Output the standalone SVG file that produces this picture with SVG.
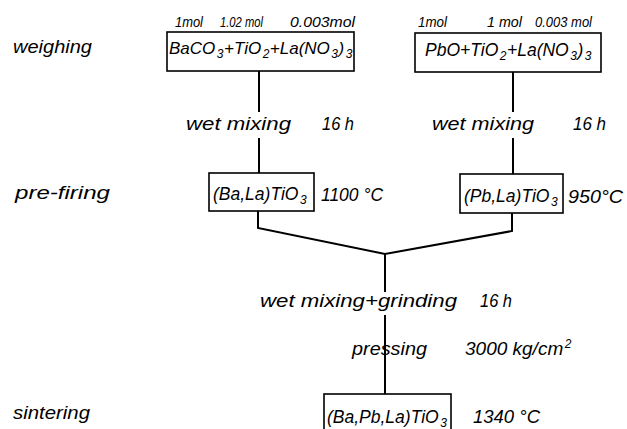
<svg xmlns="http://www.w3.org/2000/svg" width="627" height="429" viewBox="0 0 627 429">
<style>
text{font-family:"Liberation Sans",Arial,sans-serif;font-style:italic;fill:#000}
.big{font-size:19px}
.box{font-size:17.5px}
.mol{font-size:14px}
.sub{font-size:12px}
.node rect{fill:none;stroke:#000;stroke-width:1.6}
.conn{fill:none;stroke:#000;stroke-width:2}
</style>
<rect width="627" height="429" fill="#fff"/>
<g id="stages">
<text class="big" x="13" y="53" textLength="79" lengthAdjust="spacingAndGlyphs">weighing</text>
<text class="big" x="15" y="199" textLength="95" lengthAdjust="spacingAndGlyphs">pre-firing</text>
<text class="big" x="13" y="419" textLength="77" lengthAdjust="spacingAndGlyphs">sintering</text>
</g>
<g id="connectors">
<path class="conn" d="M259 71V112M259 138V173"/>
<path class="conn" d="M513 72V112M513 138V174"/>
<path class="conn" d="M258 211V228L385 254L512 231V213"/>
<path class="conn" d="M385 254V292M385 315V394"/>
</g>
<g id="mix-labels">
<text class="big" x="186" y="130" textLength="105" lengthAdjust="spacingAndGlyphs">wet mixing</text>
<text class="big" x="322" y="130" textLength="32" lengthAdjust="spacingAndGlyphs">16 h</text>
<text class="big" x="432" y="130" textLength="102" lengthAdjust="spacingAndGlyphs">wet mixing</text>
<text class="big" x="573" y="130" textLength="33" lengthAdjust="spacingAndGlyphs">16 h</text>
<text class="big" x="260" y="307" textLength="197" lengthAdjust="spacingAndGlyphs">wet mixing+grinding</text>
<text class="big" x="480" y="307" textLength="32" lengthAdjust="spacingAndGlyphs">16 h</text>
<text class="big" x="352" y="355" textLength="75" lengthAdjust="spacingAndGlyphs">pressing</text>
<text class="big" x="465" y="355">3000 kg/cm<tspan class="sub" dx="1.5" dy="-7">2</tspan></text>
</g>
<g id="node-batio3-mix" class="node">
<text class="mol" x="175" y="27" textLength="28" lengthAdjust="spacingAndGlyphs">1mol</text>
<text class="mol" x="220" y="27" textLength="43" lengthAdjust="spacingAndGlyphs">1.02 mol</text>
<text class="mol" x="290" y="27" textLength="65" lengthAdjust="spacingAndGlyphs">0.003mol</text>
<rect x="167" y="32" width="187" height="39"/>
<text class="box" x="169" y="54" style="font-size:17px">BaCO<tspan class="sub" dx="1.5" dy="4">3</tspan><tspan dx="0.5" dy="-4">+TiO</tspan><tspan class="sub" dx="1.5" dy="4">2</tspan><tspan dx="0.5" dy="-4">+La(NO</tspan><tspan class="sub" dx="1.5" dy="4">3</tspan><tspan dx="0.5" dy="-4">)</tspan><tspan class="sub" dx="1.5" dy="4">3</tspan></text>
</g>
<g id="node-pbtio3-mix" class="node">
<text class="mol" x="418" y="27" textLength="29" lengthAdjust="spacingAndGlyphs">1mol</text>
<text class="mol" x="487" y="27" textLength="35" lengthAdjust="spacingAndGlyphs">1 mol</text>
<text class="mol" x="535" y="27" textLength="57" lengthAdjust="spacingAndGlyphs">0.003 mol</text>
<rect x="415" y="33" width="186" height="39"/>
<text class="box" x="425" y="56">PbO+TiO<tspan class="sub" dx="1.5" dy="4">2</tspan><tspan dx="0.5" dy="-4">+La(NO</tspan><tspan class="sub" dx="1.5" dy="4">3</tspan><tspan dx="0.5" dy="-4">)</tspan><tspan class="sub" dx="1.5" dy="4">3</tspan></text>
</g>
<g id="node-balatio3" class="node">
<rect x="209" y="173" width="105" height="38"/>
<text class="box" x="213" y="200">(Ba,La)TiO<tspan class="sub" dx="1.5" dy="4">3</tspan></text>
<text class="big" x="321" y="201" textLength="62" lengthAdjust="spacingAndGlyphs">1100 °C</text>
</g>
<g id="node-pblatio3" class="node">
<rect x="460" y="174" width="103" height="39"/>
<text class="box" x="464" y="202">(Pb,La)TiO<tspan class="sub" dx="1.5" dy="4">3</tspan></text>
<text class="big" x="568" y="203" textLength="55" lengthAdjust="spacingAndGlyphs">950°C</text>
</g>
<g id="node-bapblatio3" class="node">
<rect x="324" y="394" width="127" height="50"/>
<text class="box" x="327" y="423">(Ba,Pb,La)TiO<tspan class="sub" dx="1.5" dy="4">3</tspan></text>
<text class="big" x="473" y="423" textLength="67" lengthAdjust="spacingAndGlyphs">1340 °C</text>
</g>
</svg>
